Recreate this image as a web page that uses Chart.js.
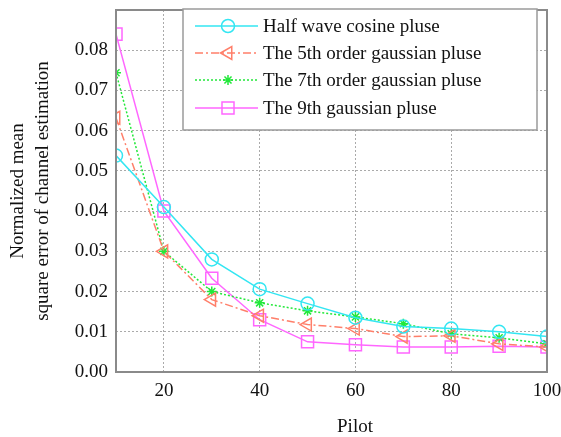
<!DOCTYPE html>
<html>
<head>
<meta charset="utf-8">
<script src="https://cdn.jsdelivr.net/npm/chart.js@4"></script>
<style>
  html, body { margin: 0; padding: 0; background: #fff; }
  #wrap { width: 561px; height: 437px; }
</style>
</head>
<body>
<div id="wrap"><canvas id="c" width="561" height="437"></canvas></div>
<script>
// pilot counts
const pilots = [10, 20, 30, 40, 50, 60, 70, 80, 90, 100];
const xTicks = [20, 40, 60, 80, 100];
const yTicks = [0, 0.01, 0.02, 0.03, 0.04, 0.05, 0.06, 0.07, 0.08];

// normalized MSE per pulse shape
const halfWave = [0.0538, 0.0410, 0.0280, 0.0206, 0.0170, 0.0135, 0.0113, 0.0108, 0.0100, 0.0088];
const gauss5   = [0.0632, 0.0300, 0.0180, 0.0140, 0.0118, 0.0108, 0.0088, 0.0090, 0.0070, 0.0062];
const gauss7   = [0.0744, 0.0300, 0.0200, 0.0172, 0.0152, 0.0137, 0.0120, 0.0095, 0.0085, 0.0070];
const gauss9   = [0.0840, 0.0400, 0.0233, 0.0130, 0.0075, 0.0068, 0.0062, 0.0062, 0.0064, 0.0062];

const labels = [
    'Half wave cosine pluse',
    'The 5th order gaussian pluse',
    'The 7th order gaussian pluse',
    'The 9th gaussian pluse'
];

const serif = '"Liberation Serif", "Times New Roman", serif';
const fontSize = 19;

let toPoints = (arr) => pilots.map((p, i) => ({x: p, y: arr[i]}));

let makeSet = (label, values, color, dash, style, radius, rot) => ({
    label: label,
    data: toPoints(values),
    borderColor: color,
    backgroundColor: color,
    borderWidth: 1.5,
    borderDash: dash,
    pointStyle: style,
    pointRadius: radius,
    pointRotation: rot,
    pointBorderColor: color,
    pointBackgroundColor: style === 'star' ? color : 'rgba(0,0,0,0)',
    pointBorderWidth: 1.5,
    tension: 0,
    fill: false
});

const datasets = [
    makeSet(labels[0], halfWave, '#33e6f2', [], 'circle', 6.5, 0),
    makeSet(labels[1], gauss5, '#ff7f6a', [8, 3, 2, 3], 'triangle', 7.5, 270),
    makeSet(labels[2], gauss7, '#22e83a', [2, 2], 'star', 5, 0),
    makeSet(labels[3], gauss9, '#ff66ff', [], 'rect', 8.5, 0)
];

// box around plot area, x title and legend inside the plot
const framePlugin = {
    id: 'frame',
    afterDraw(chart) {
        const ctx = chart.ctx;
        const a = chart.chartArea;
        ctx.save();
        ctx.strokeStyle = '#8a8a8a';
        ctx.lineWidth = 2;
        ctx.setLineDash([]);
        ctx.strokeRect(a.left, a.top, a.right - a.left, a.bottom - a.top);

        ctx.font = fontSize + 'px ' + serif;
        ctx.fillStyle = '#111';
        ctx.textAlign = 'center';
        ctx.textBaseline = 'middle';
        ctx.fillText('Pilot', 355, 427);

        // legend box
        const lx = 183, ly = 9, lw = 354, lh = 121;
        ctx.fillStyle = '#fff';
        ctx.fillRect(lx, ly, lw, lh);
        ctx.strokeStyle = '#9a9a9a';
        ctx.lineWidth = 1.5;
        ctx.strokeRect(lx, ly, lw, lh);

        const rows = [26, 53, 80, 108];
        ctx.textAlign = 'left';
        chart.data.datasets.forEach((ds, i) => {
            const y = rows[i];
            ctx.strokeStyle = ds.borderColor;
            ctx.lineWidth = 1.5;
            ctx.setLineDash(ds.borderDash);
            ctx.beginPath();
            ctx.moveTo(195, y);
            ctx.lineTo(258, y);
            ctx.stroke();
            ctx.setLineDash([]);
            ctx.fillStyle = ds.pointBackgroundColor;
            Chart.helpers.drawPoint(ctx, {
                pointStyle: ds.pointStyle,
                radius: ds.pointRadius,
                rotation: ds.pointRotation,
                borderWidth: 1.5
            }, 228, y);
            ctx.fillStyle = '#111';
            ctx.fillText(ds.label, 263, y + 1);
        });
        ctx.restore();
    }
};

new Chart(document.getElementById('c'), {
    type: 'line',
    data: { datasets: datasets },
    plugins: [framePlugin],
    options: {
        responsive: false,
        animation: false,
        layout: { padding: { top: 8, right: 14, left: 0, bottom: 0 } },
        plugins: {
            legend: { display: false },
            tooltip: { enabled: false }
        },
        scales: {
            x: {
                type: 'linear',
                min: 10,
                max: 100,
                afterBuildTicks: (scale) => {
                    scale.ticks = xTicks.map(v => ({ value: v }));
                },
                afterFit: (scale) => {
                    scale.height = 65;
                    scale.paddingRight = 0;
                    scale.paddingLeft = 0;
                },
                grid: {
                    color: '#aaa',
                    lineWidth: 1,
                    drawTicks: false
                },
                border: { display: false, dash: [2, 2] },
                ticks: {
                    color: '#111',
                    font: { family: serif, size: fontSize },
                    padding: 8,
                    maxRotation: 0
                },
                title: { display: false }
            },
            y: {
                min: 0,
                max: 0.09,
                afterBuildTicks: (scale) => {
                    scale.ticks = yTicks.map(v => ({ value: v }));
                },
                afterFit: (scale) => {
                    scale.width = 116;
                    scale.paddingTop = 0;
                    scale.paddingBottom = 0;
                },
                grid: {
                    color: '#aaa',
                    lineWidth: 1,
                    drawTicks: false
                },
                border: { display: false, dash: [2, 2] },
                ticks: {
                    color: '#111',
                    font: { family: serif, size: fontSize },
                    padding: 8,
                    callback: (v) => v.toFixed(2)
                },
                title: {
                    display: true,
                    text: ['Normalized mean', 'square error of channel estimation'],
                    color: '#111',
                    font: { family: serif, size: fontSize, lineHeight: 1.3 },
                    padding: { top: 6, bottom: 0 }
                }
            }
        }
    }
});
</script>
</body>
</html>
